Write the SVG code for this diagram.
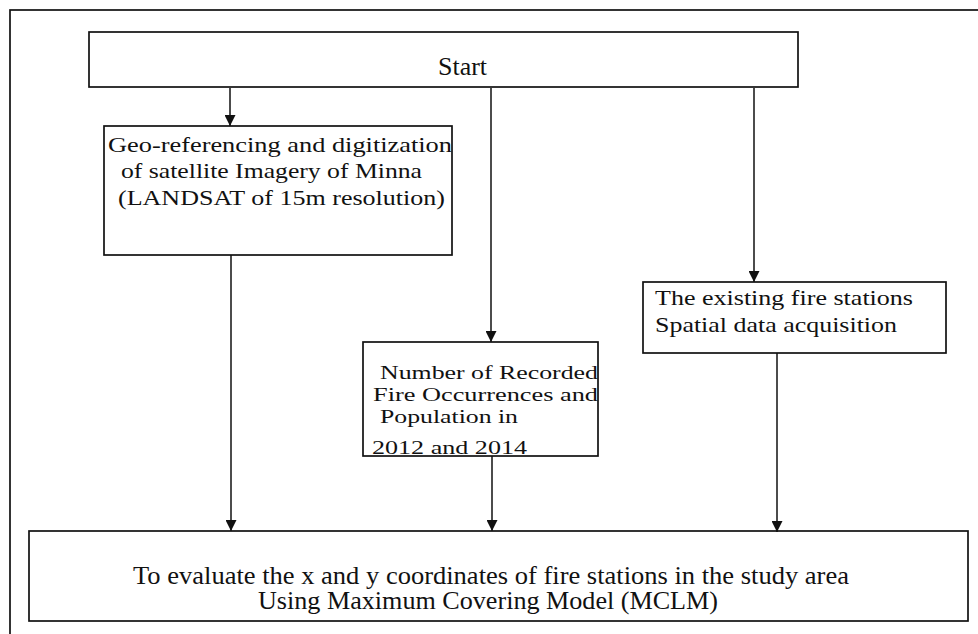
<svg xmlns="http://www.w3.org/2000/svg" width="978" height="634" viewBox="0 0 978 634">
<defs>
<style>
.box{fill:none;stroke:#111;stroke-width:1.7}
.ln{fill:none;stroke:#111;stroke-width:1.5}
.t{font-family:"Liberation Serif",serif;fill:#111;font-size:22px}
.tm{font-family:"Liberation Serif",serif;fill:#111;font-size:19px}
.tb{font-family:"Liberation Serif",serif;fill:#111;font-size:25px}
</style>
<marker id="ah" viewBox="0 0 10 10" refX="10" refY="5" markerWidth="11" markerHeight="11" markerUnits="userSpaceOnUse" orient="auto">
<path d="M0,0 L10,5 L0,10 Z" fill="#111"/>
</marker>
</defs>
<rect width="978" height="634" fill="#fff"/>
<rect x="10" y="10" width="1000" height="700" class="box"/>
<g id="connectors">
<line x1="230" y1="88" x2="230" y2="126" class="ln" marker-end="url(#ah)"/>
<line x1="491" y1="88" x2="491" y2="342" class="ln" marker-end="url(#ah)"/>
<line x1="754" y1="88" x2="754" y2="282" class="ln" marker-end="url(#ah)"/>
<line x1="231" y1="255" x2="231" y2="531" class="ln" marker-end="url(#ah)"/>
<line x1="492" y1="456" x2="492" y2="531" class="ln" marker-end="url(#ah)"/>
<line x1="777" y1="353" x2="777" y2="532" class="ln" marker-end="url(#ah)"/>
</g>
<g id="start">
<rect x="89" y="32" width="709" height="55" class="box"/>
<text x="438" y="75" class="tb" textLength="49" lengthAdjust="spacingAndGlyphs">Start</text>
</g>
<g id="georef">
<rect x="104" y="126" width="348" height="129" class="box"/>
<text x="108" y="152" class="t" textLength="344" lengthAdjust="spacingAndGlyphs">Geo-referencing and digitization</text>
<text x="121" y="178" class="t" textLength="301" lengthAdjust="spacingAndGlyphs">of satellite Imagery of Minna</text>
<text x="118" y="205" class="t" textLength="327" lengthAdjust="spacingAndGlyphs">(LANDSAT of 15m resolution)</text>
</g>
<g id="fire-occurrences">
<rect x="363" y="342" width="235" height="114" class="box"/>
<text x="380" y="379" class="tm" textLength="218" lengthAdjust="spacingAndGlyphs">Number of Recorded</text>
<text x="373" y="401" class="tm" textLength="225" lengthAdjust="spacingAndGlyphs">Fire Occurrences and</text>
<text x="380" y="423" class="tm" textLength="138" lengthAdjust="spacingAndGlyphs">Population in</text>
<text x="372" y="454" class="tm" textLength="155" lengthAdjust="spacingAndGlyphs">2012 and 2014</text>
</g>
<g id="fire-stations">
<rect x="643" y="282" width="303" height="71" class="box"/>
<text x="655" y="305" class="t" textLength="258" lengthAdjust="spacingAndGlyphs">The existing fire stations</text>
<text x="655" y="332" class="t" textLength="242" lengthAdjust="spacingAndGlyphs">Spatial data acquisition</text>
</g>
<g id="evaluate">
<rect x="29" y="531" width="939" height="90" class="box"/>
<text x="133" y="584" class="tb" textLength="716" lengthAdjust="spacingAndGlyphs">To evaluate the x and y coordinates of fire stations in the study area</text>
<text x="258" y="609" class="tb" textLength="460" lengthAdjust="spacingAndGlyphs">Using Maximum Covering Model (MCLM)</text>
</g>
</svg>
